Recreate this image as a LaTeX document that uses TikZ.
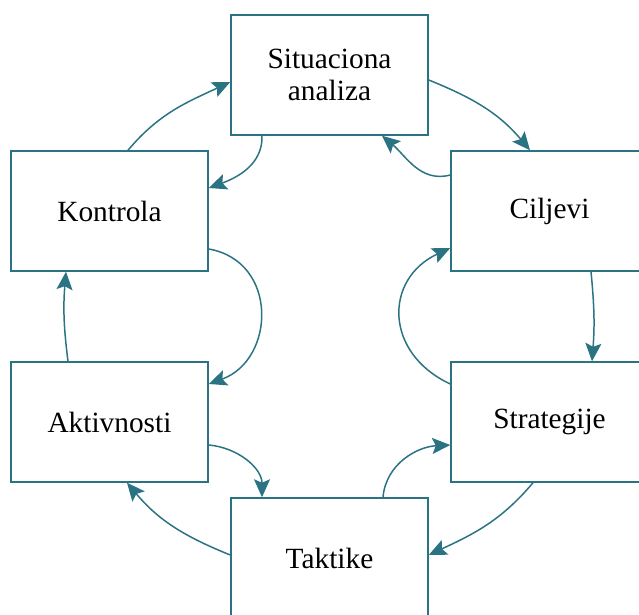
\documentclass[tikz,border=0pt]{standalone}
\usepackage{fontspec}
\setmainfont{Liberation Serif}
\usetikzlibrary{arrows.meta,calc}
\definecolor{cyc}{RGB}{42,115,130}

\begin{document}
\begin{tikzpicture}[x=0.02cm,y=0.02cm,
  >={Stealth[length=0.36cm,width=0.32cm,inset=0.07cm]},
  box/.style={draw=cyc,line width=0.85pt,minimum width=3.94cm,minimum height=2.4cm,
    inner sep=0pt,align=center,font=\fontsize{16.7}{18.2}\selectfont},
  link/.style={cyc,line width=0.85pt,->}]
  \clip (0,0) rectangle (639,615);
  % the six boxes of the cycle
  \node[box] (sit) at (329.5,540) {Situaciona\\analiza};
  \node[box] (cil) at (549.5,404) {Ciljevi};
  \node[box] (str) at (549.5,193) {Strategije};
  \node[box] (tak) at (329.5,57) {Taktike};
  \node[box] (akt) at (109.5,193) {Aktivnosti};
  \node[box] (kon) at (109.5,404) {Kontrola};
  % links
  \draw[link] ($(kon.north)+(18.5,0)$) to[out=50,in=205] ($(sit.west)+(0,-7)$);
  \draw[link] ($(sit.south)+(-67.5,0)$) to[out=-88,in=20] ($(kon.east)+(0,23)$);
  \draw[link] ($(sit.east)+(0,-5)$) to[out=-22,in=130] ($(cil.north)+(-19.5,0)$);
  \draw[link] ($(cil.west)+(0,36)$) to[out=195,in=-40] ($(sit.south)+(52.5,0)$);
  \draw[link] ($(cil.south)+(41.5,0)$) to[bend left=5] ($(str.north)+(42.5,0)$);
  \draw[link] ($(str.west)+(0,38)$) to[out=155,in=205,looseness=1.38] ($(cil.west)+(0,-37)$);
  \draw[link] ($(str.south)+(-16.5,0)$) to[out=-130,in=25] ($(tak.east)+(0,3)$);
  \draw[link] ($(tak.north)+(53.5,0)$) to[out=85,in=183] ($(str.west)+(0,-23)$);
  \draw[link] ($(tak.west)+(0,3)$) to[out=158,in=-50] ($(akt.south)+(17.5,0)$);
  \draw[link] ($(akt.east)+(0,-23)$) to[out=-5,in=90] ($(tak.north)+(-67.5,0)$);
  \draw[link] ($(akt.north)+(-41.5,0)$) to[bend left=6] ($(kon.south)+(-43.5,0)$);
  \draw[link] ($(kon.east)+(0,-38)$) to[out=-10,in=20,looseness=1.35] ($(akt.east)+(0,38)$);
\end{tikzpicture}
\end{document}
